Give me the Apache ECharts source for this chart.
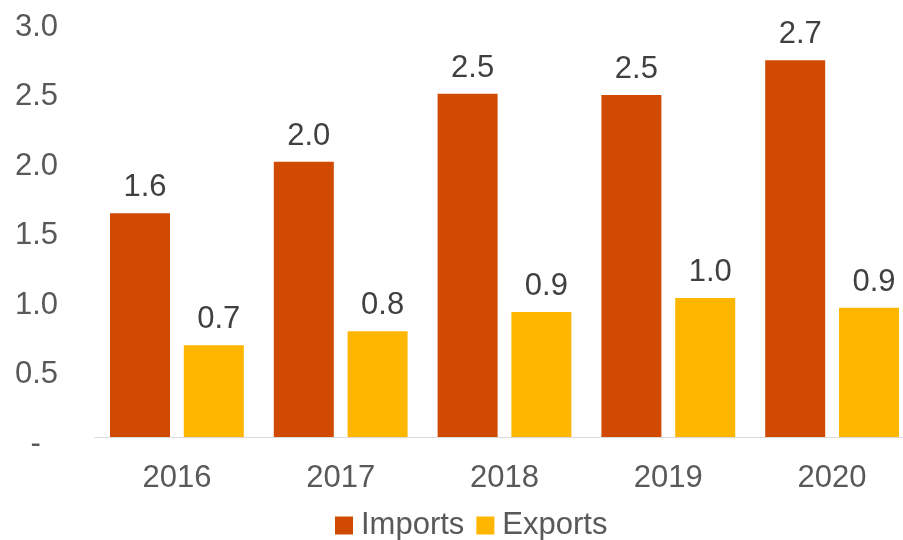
<!DOCTYPE html>
<html>
<head>
<meta charset="utf-8">
<script src="https://cdn.jsdelivr.net/npm/echarts@6/dist/echarts.min.js"></script>
<style>
html,body{margin:0;padding:0;background:#fff;overflow:hidden;}
#chart{width:915px;height:540px;}
</style>
</head>
<body>
<div id="chart"></div>
<script>
// data
var years = ['2016', '2017', '2018', '2019', '2020'];
var imports = [1.61, 1.98, 2.47, 2.46, 2.71];
var exports_ = [0.66, 0.76, 0.90, 1.00, 0.93];

var chart = echarts.init(document.getElementById('chart'));
var font = '"Liberation Sans", Arial, sans-serif';

var labelCfg = {
    show: true,
    position: 'top',
    distance: 10,
    offset: [5, 0],
    fontSize: 31,
    fontFamily: font,
    color: '#404040',
    formatter: function (p) { return p.value.toFixed(1); }
};

var option = {
    animation: false,
    grid: {
        left: 95,
        width: 819,
        top: 20,
        bottom: 103,
        containLabel: false
    },
    legend: {
        left: 335,
        top: 510,
        padding: 0,
        icon: 'rect',
        itemWidth: 18,
        itemHeight: 18,
        itemGap: 12,
        textStyle: { fontSize: 31, fontFamily: font, color: '#595959', padding: [0, 0, 0, 3] },
        data: ['Imports', 'Exports']
    },
    xAxis: {
        type: 'category',
        data: years,
        axisLine: { lineStyle: { color: '#d9d9d9', width: 1 } },
        axisTick: { show: false },
        axisLabel: { fontSize: 31, fontFamily: font, color: '#595959', margin: 26 }
    },
    yAxis: {
        type: 'value',
        min: 0,
        max: 3,
        interval: 0.5,
        splitLine: { show: false },
        axisLine: { show: false },
        axisTick: { show: false },
        axisLabel: {
            fontSize: 31,
            fontFamily: font,
            color: '#595959',
            margin: 37,
            verticalAlign: 'top',
            lineHeight: 14,
            formatter: function (v) { return v === 0 ? '-  ' : v.toFixed(1); }
        }
    },
    series: [
        {
            name: 'Imports',
            type: 'bar',
            data: imports,
            barWidth: 60,
            barGap: '23%',
            itemStyle: { color: '#D04A02' },
            label: labelCfg
        },
        {
            name: 'Exports',
            type: 'bar',
            data: exports_,
            barWidth: 60,
            itemStyle: { color: '#FFB600' },
            label: labelCfg
        }
    ]
};

chart.setOption(option);
</script>
</body>
</html>
